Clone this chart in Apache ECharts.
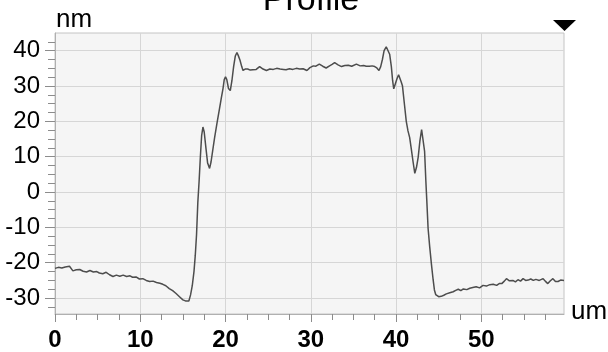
<!DOCTYPE html>
<html>
<head>
<meta charset="utf-8">
<title>Profile</title>
<script src="https://cdn.jsdelivr.net/npm/echarts@6/dist/echarts.min.js"></script>
<style>
  html, body { margin: 0; padding: 0; background: #ffffff; }
  #chart { width: 608px; height: 352px; }
</style>
</head>
<body>
<div id="chart"></div>
<script>
// Scan position along the profile line (um)
const profileX = [
  0, 0.4, 0.8, 1.2, 1.7, 2.1, 2.5, 2.9, 3.3, 3.7, 4.1, 4.5, 4.9, 5.2, 5.6, 6.0, 6.4, 6.8, 7.2, 7.6,
  8.0, 8.4, 8.8, 9.1, 9.5, 9.9, 10.3, 10.7, 11.1, 11.5, 11.9, 12.3, 12.65, 13.0, 13.4, 13.8, 14.2, 14.6, 15.0, 15.3,
  15.7, 15.9, 16.1, 16.3, 16.45, 16.6, 16.75, 16.9, 17.05, 17.2, 17.35, 17.5, 17.7, 17.9, 18.13, 18.3, 18.5, 18.72, 19.0, 19.3,
  19.5, 19.7, 19.85, 20.0, 20.15, 20.35, 20.56, 20.75, 20.95, 21.15, 21.34, 21.5, 21.7, 21.9, 22.05, 22.3, 22.6, 22.9, 23.2, 23.6,
  24.0, 24.4, 24.8, 25.2, 25.6, 26.0, 26.4, 26.8, 27.1, 27.5, 27.9, 28.3, 28.7, 29.1, 29.55, 29.9, 30.3, 30.6, 31.0, 31.4,
  31.8, 32.2, 32.5, 32.8, 33.2, 33.6, 34.0, 34.4, 34.8, 35.35, 35.8, 36.2, 36.5, 36.9, 37.2, 37.5, 37.75, 38.0, 38.2, 38.4,
  38.6, 38.85, 39.05, 39.25, 39.45, 39.6, 39.73, 39.9, 40.1, 40.3, 40.45, 40.6, 40.75, 41.0, 41.2, 41.4, 41.6, 41.8, 42.0, 42.2,
  42.4, 42.6, 42.8, 43.0, 43.2, 43.35, 43.5, 43.6, 43.76, 43.95, 44.15, 44.35, 44.5, 44.65, 44.8, 45.0, 45.3, 45.6, 45.9, 46.3,
  46.7, 47.0, 47.3, 47.6, 47.9, 48.3, 48.65, 49.0, 49.4, 49.8, 50.2, 50.6, 51.0, 51.4, 51.8, 52.1, 52.4, 52.7, 52.95, 53.3,
  53.7, 54.0, 54.3, 54.6, 54.9, 55.2, 55.5, 55.8, 56.1, 56.4, 56.8, 57.25, 57.5, 57.8, 58.1, 58.4, 58.7, 59.0, 59.3, 59.7
];

// Measured height at each position (nm)
const profileHeight = [
  -21.6, -21.3, -21.5, -21.2, -21.0, -22.3, -22.0, -21.9, -22.4, -22.6, -22.2, -22.6, -22.5, -22.9, -23.1, -22.7, -23.4, -23.9, -23.5, -23.8,
  -23.5, -23.9, -23.7, -24.1, -24.0, -24.6, -24.5, -25.0, -25.3, -25.2, -25.6, -25.8, -26.1, -26.5, -27.3, -27.9, -28.7, -29.6, -30.5, -30.8,
  -30.8, -29.1, -26.5, -22.5, -18.0, -12.1, -3.0, 3.0, 10.0, 16.0, 18.4, 17.0, 12.5, 8.2, 6.7, 8.5, 11.8, 15.4, 19.5, 23.7,
  26.5, 29.2, 31.8, 32.6, 31.8, 29.3, 28.7, 31.5, 35.5, 38.5, 39.5, 38.6, 37.3, 35.5, 34.4, 34.8, 34.8, 34.5, 34.6, 34.7,
  35.5, 34.8, 34.4, 34.8, 34.7, 35.0, 34.8, 34.7, 34.6, 34.9, 34.7, 35.0, 34.8, 34.9, 34.4, 35.2, 35.7, 35.6, 36.2, 35.6,
  35.1, 35.7, 36.1, 36.6, 36.0, 35.5, 35.8, 35.9, 35.6, 36.2, 35.7, 35.8, 35.6, 35.6, 35.7, 35.5, 35.1, 34.4, 35.5, 37.5,
  40.0, 41.1, 40.6, 39.0, 35.5, 31.5, 29.2, 29.7, 32.0, 33.2, 33.0, 31.2, 30.1, 24.5, 20.0, 17.3, 15.4, 12.0, 8.5, 5.3,
  7.0, 9.9, 14.5, 17.7, 17.3, 11.5, 3.0, -2.0, -10.3, -15.5, -20.4, -24.8, -27.7, -29.0, -29.5, -29.6, -29.5, -29.2, -28.8, -28.5,
  -28.2, -27.8, -27.5, -27.9, -27.4, -27.6, -27.2, -27.0, -26.8, -27.1, -26.4, -26.6, -26.2, -26.1, -26.4, -25.9, -25.9, -25.2, -24.5, -25.1,
  -25.0, -25.4, -24.8, -25.2, -24.5, -25.0, -24.9, -24.6, -25.0, -24.7, -25.0, -24.5, -25.2, -25.9, -25.1, -24.5, -25.3, -25.3, -24.9, -25.0
];

// Labelled ticks and minor ticks on both axes
const xMajorTicks = [0, 10, 20, 30, 40, 50];
const xMinorTicks = [2.5, 5, 7.5, 12.5, 15, 17.5, 22.5, 25, 27.5, 32.5, 35, 37.5, 42.5, 45, 47.5, 52.5, 55, 57.5];
const yMajorTicks = [-30, -20, -10, 0, 10, 20, 30, 40];
const yMinorTicks = [-32.5, -27.5, -25, -22.5, -17.5, -15, -12.5, -7.5, -5, -2.5, 2.5, 5, 7.5, 12.5, 15, 17.5, 22.5, 25, 27.5, 32.5, 35, 37.5, 42.5];

const X_MIN = 0, X_MAX = 59.7;
const Y_MIN = -34.5, Y_MAX = 45;

const chart = echarts.init(document.getElementById('chart'), null, { renderer: 'canvas' });

const gridLine = { show: true, lineStyle: { color: '#d6d6d6', width: 1 } };
const tickColor = '#8c8c8c';
const sans = '"Liberation Sans", Arial, Helvetica, sans-serif';

chart.setOption({
  animation: false,
  backgroundColor: '#ffffff',
  grid: {
    left: 55, top: 33, right: 44, bottom: 30,
    show: true,
    backgroundColor: '#f5f5f5',
    borderColor: '#c4c4c4',
    borderWidth: 1
  },
  graphic: [
    {
      type: 'text', x: 311, y: 1,
      style: {
        text: 'Profile', fill: '#000', align: 'center', verticalAlign: 'middle',
        font: '34px ' + sans
      }
    },
    {
      type: 'text', x: 56, y: 20,
      style: {
        text: 'nm', fill: '#000', align: 'left', verticalAlign: 'middle',
        font: '26px ' + sans
      }
    },
    {
      type: 'text', x: 571, y: 312,
      style: {
        text: 'um', fill: '#000', align: 'left', verticalAlign: 'middle',
        font: '26px ' + sans
      }
    },
    {
      // menu marker in the top-right corner
      type: 'polygon',
      shape: { points: [[553, 20], [576, 20], [564.5, 31]] },
      style: { fill: '#000' }
    }
  ],
  xAxis: [
    {
      type: 'value', min: X_MIN, max: X_MAX, interval: 10,
      position: 'bottom',
      axisLine: { show: true, onZero: false, lineStyle: { color: '#b0b0b0', width: 1 } },
      axisTick: { show: true, length: 8, customValues: xMajorTicks, lineStyle: { color: tickColor } },
      axisLabel: {
        show: true, margin: 14, customValues: xMajorTicks,
        color: '#000', fontSize: 24, fontWeight: 'bold',
        fontFamily: sans
      },
      splitLine: gridLine
    },
    {
      type: 'value', min: X_MIN, max: X_MAX,
      position: 'bottom',
      axisLine: { show: false, onZero: false },
      axisTick: { show: true, length: 6, customValues: xMinorTicks, lineStyle: { color: tickColor } },
      axisLabel: { show: false },
      splitLine: { show: false }
    }
  ],
  yAxis: [
    {
      type: 'value', min: Y_MIN, max: Y_MAX, splitNumber: 8,
      position: 'left',
      axisLine: { show: true, onZero: false, lineStyle: { color: '#b0b0b0', width: 1 } },
      axisTick: { show: true, length: 10, customValues: yMajorTicks, lineStyle: { color: tickColor } },
      axisLabel: {
        show: true, margin: 15, customValues: yMajorTicks,
        color: '#000', fontSize: 24,
        fontFamily: sans
      },
      splitLine: gridLine
    },
    {
      type: 'value', min: Y_MIN, max: Y_MAX,
      position: 'left',
      axisLine: { show: false, onZero: false },
      axisTick: { show: true, length: 7, customValues: yMinorTicks, lineStyle: { color: tickColor } },
      axisLabel: { show: false },
      splitLine: { show: false }
    }
  ],
  series: [
    {
      type: 'line',
      xAxisIndex: 0,
      yAxisIndex: 0,
      data: profileX.map((x, i) => [x, profileHeight[i]]),
      showSymbol: false,
      smooth: false,
      clip: true,
      lineStyle: { color: '#4d4d4d', width: 1.5 }
    }
  ]
});
</script>
</body>
</html>
